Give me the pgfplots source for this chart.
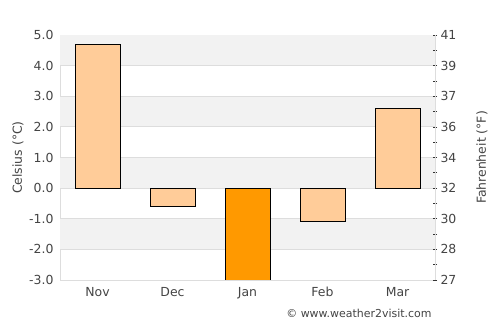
\documentclass[border=0pt]{standalone}
\usepackage{fontspec}
\setmainfont{DejaVu Sans}
\usepackage{pgfplots}
\pgfplotsset{compat=1.18}
\definecolor{barlight}{HTML}{FFCC99}
\definecolor{bardark}{HTML}{FF9900}
\definecolor{band}{HTML}{F2F2F2}
\definecolor{gridc}{HTML}{DDDDDD}
\definecolor{txt}{HTML}{444444}
\newcommand{\lblfont}{\fontsize{12.5}{14}\selectfont}
\begin{document}
\begin{tikzpicture}
\path[draw=none] (0,0) rectangle (500bp,325bp);
\begin{axis}[
  at={(60bp,45bp)}, anchor=south west,
  scale only axis, width=375bp, height=245bp,
  xmin=-0.5, xmax=4.5, ymin=-3, ymax=5,
  xtick={0,1,2,3,4}, xticklabels={Nov,Dec,Jan,Feb,Mar},
  ytick={-3,-2,-1,0,1,2,3,4,5},
  yticklabels={-3.0,-2.0,-1.0,0.0,1.0,2.0,3.0,4.0,5.0},
  axis line style={gridc, line width=0.8bp},
  major tick length=0pt,
  tick label style={txt, font=\lblfont},
  yticklabel style={xshift=-3bp},
  xticklabel style={yshift=-4bp},
  /pgf/number format/assume math mode=true,
  ylabel={Celsius (°C)},
  ylabel style={at={(axis description cs:-0.112,0.5)}, rotate=0, anchor=center, txt, font=\lblfont},
  ybar, bar width=0.6, bar shift=0pt,
  clip=true,
]
\fill[band] (axis cs:-0.5,4) rectangle (axis cs:4.5,5);
\fill[band] (axis cs:-0.5,2) rectangle (axis cs:4.5,3);
\fill[band] (axis cs:-0.5,0) rectangle (axis cs:4.5,1);
\fill[band] (axis cs:-0.5,-2) rectangle (axis cs:4.5,-1);
\foreach \k in {-2,-1,0,1,2,3,4} {
  \edef\tmp{\noexpand\draw[gridc, line width=0.8bp] (axis cs:-0.5,\k) -- (axis cs:4.5,\k);}\tmp
}
\addplot[fill=barlight, draw=black, line width=0.8bp] coordinates {(0,4.7) (1,-0.6) (3,-1.1) (4,2.6)};
\addplot[fill=bardark, draw=black, line width=0.8bp] coordinates {(2,-3.3)};
\end{axis}
\begin{axis}[
  at={(60bp,45bp)}, anchor=south west,
  scale only axis, width=375bp, height=245bp,
  xmin=-0.5, xmax=4.5, ymin=-3, ymax=5,
  axis x line=none, axis y line*=right,
  axis line style={gridc, line width=0.8bp},
  ytick={-3,-2,-1,0,1,2,3,4,5},
  yticklabels={27,28,30,32,34,36,37,39,41},
  minor ytick={-2.5,-1.5,-0.5,0.5,1.5,2.5,3.5,4.5},
  tick align=center, major tick length=4bp, minor tick length=4bp,
  tick style={black!80, line width=0.7bp},
  tick label style={txt, font=\lblfont},
  /pgf/number format/assume math mode=true,
  ylabel={Fahrenheit (°F)},
  ylabel style={at={(axis description cs:1.125,0.5)}, rotate=0, anchor=center, txt, font=\lblfont},
]
\addplot[draw=none] coordinates {(0,0)};
\end{axis}
\node[anchor=east, txt, font=\fontsize{11}{13}\selectfont] at (435bp,12bp) {© www.weather2visit.com};
\end{tikzpicture}
\end{document}
